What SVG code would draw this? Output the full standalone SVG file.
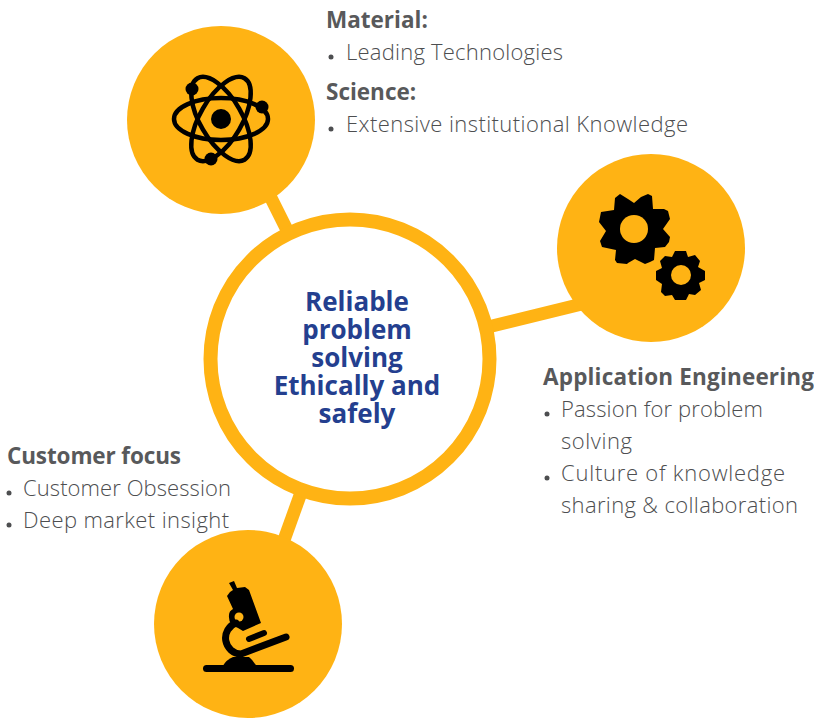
<svg xmlns="http://www.w3.org/2000/svg" width="814" height="718" viewBox="0 0 814 718">
<style>
.c{fill:#FFB314}
.l{stroke:#FFB314;stroke-width:13;fill:none}
.t{font-family:"Open Sans","Noto Sans",sans-serif;font-size:22px;font-weight:300;fill:#4D4E50}
.h{font-family:"Open Sans","Noto Sans",sans-serif;font-size:22.500px;font-weight:700;fill:#58595B}
.m{font-family:"Open Sans","Noto Sans",sans-serif;font-size:26px;font-weight:700;fill:#243F8F;text-anchor:middle}
.o{fill:none;stroke:#000;stroke-width:4.500}
.b{fill:#4D4E50}
</style>
<rect width="814" height="718" fill="#fff"/>
<g id="connectors">
<line class="l" x1="270" y1="196" x2="288" y2="232"/>
<line class="l" x1="488" y1="327" x2="590" y2="302"/>
<line class="l" x1="302" y1="490" x2="284" y2="540"/>
</g>
<g id="center"><circle cx="350" cy="359" r="139.500" fill="#fff" stroke="#FFB314" stroke-width="14"/>
<text class="m" y="311"><tspan x="357">Reliable</tspan><tspan x="357" dy="28">problem</tspan><tspan x="357" dy="28">solving</tspan><tspan x="357" dy="28">Ethically and</tspan><tspan x="357" dy="28">safely</tspan></text></g>
<g id="atom"><circle class="c" cx="221" cy="120" r="94"/>
<circle cx="221" cy="119" r="10"/>
<ellipse class="o" cx="221" cy="119" rx="47" ry="21"/>
<ellipse class="o" cx="221" cy="119" rx="47" ry="21" transform="rotate(60 221 119)"/>
<ellipse class="o" cx="221" cy="119" rx="47" ry="21" transform="rotate(-60 221 119)"/>
<circle cx="192" cy="89" r="6.500"/><circle cx="262" cy="107" r="6.500"/><circle cx="211" cy="159" r="6.500"/></g>
<g id="gears"><circle class="c" cx="651" cy="248" r="94"/>
<path d="M620 194 L628 199 L634 203 L641 197 L648 194 L652 196 L653 209 L664 209 L668 211 L670 219 L663 229 L670 237 L669 242 L665 247 L655 248 L654 260 L650 262 L645 264 L635 259 L628 263 L627 264 L617 263 L615 260 L616 250 L602 247 L600 241 L606 231 L599 222 L601 212 L614 210 L615 198 Z"/>
<circle class="c" cx="634" cy="229" r="14"/>
<path d="M675 251 L686 251 L688 257 L695 255 L700 261 L698 267 L705 271 L705 280 L699 283 L701 290 L695 295 L689 294 L686 300 L675 300 L672 295 L665 296 L661 292 L662 284 L656 280 L656 271 L662 268 L660 261 L665 256 L672 257 Z"/>
<circle class="c" cx="681" cy="275" r="10"/></g>
<g id="microscope"><circle class="c" cx="248" cy="624" r="94"/>
<rect x="203" y="665" width="91" height="7" rx="3.500"/>
<path d="M222 667 Q227 659 233 657 L249 657 Q253 660 257 667 Z"/>
<path d="M229 583 L234 581 L237 588 L245 587 L249 590 L261 623 L243 631 L238 628 Q228 625 229 615 Q229 611 233 609 L227 596 L230 592 L233 590 Z"/>
<circle class="c" cx="239" cy="617" r="4.500"/>
<path d="M236 623 A16 16 0 0 0 241 654 L286 637" fill="none" stroke="#000" stroke-width="7" stroke-linecap="round"/>
<path d="M249 639 L264 633" stroke="#000" stroke-width="6" stroke-linecap="round"/></g>
<g id="label-top"><text class="h" x="326" y="28">Material:</text><circle class="b" cx="331" cy="57" r="2.500"/><text class="t" x="346" y="60" textLength="217">Leading Technologies</text><text class="h" x="326" y="100">Science:</text><circle class="b" cx="331" cy="129" r="2.500"/><text class="t" x="346" y="132" textLength="342">Extensive institutional Knowledge</text></g>
<g id="label-right"><text class="h" x="543" y="385" textLength="271">Application Engineering</text><circle class="b" cx="547" cy="414" r="2.500"/><text class="t" x="561" y="417" textLength="202">Passion for problem</text><text class="t" x="561" y="449" textLength="71">solving</text><circle class="b" cx="547" cy="478" r="2.500"/><text class="t" x="561" y="481" textLength="224">Culture of knowledge</text><text class="t" x="561" y="513" textLength="237">sharing &amp; collaboration</text></g>
<g id="label-left"><text class="h" x="7" y="464" textLength="174">Customer focus</text><circle class="b" cx="9" cy="493" r="2.500"/><text class="t" x="23" y="496" textLength="208">Customer Obsession</text><circle class="b" cx="9" cy="525" r="2.500"/><text class="t" x="23" y="528" textLength="206">Deep market insight</text></g>
</svg>
